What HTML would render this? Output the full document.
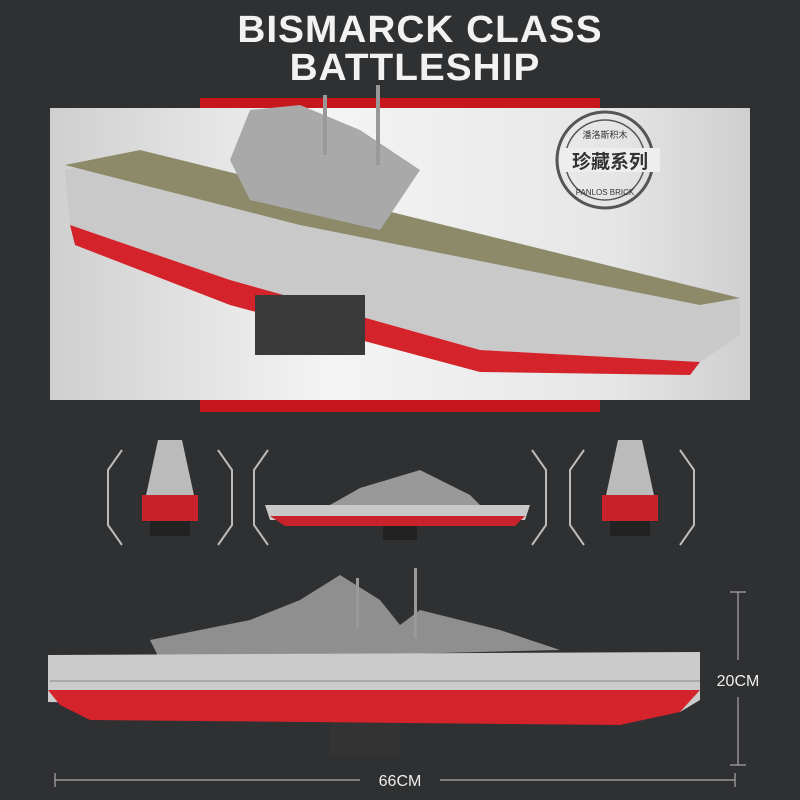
<!DOCTYPE html>
<html><head><meta charset="utf-8"><style>
body{margin:0;width:800px;height:800px;overflow:hidden;background:#2e3032;font-family:"Liberation Sans","Noto Sans CJK SC",sans-serif;position:relative}
.t{position:absolute;left:0;width:800px;text-align:center;color:#f2f2f2;font-weight:900;letter-spacing:1px}
</style></head><body>
<div class="t" style="top:10px;left:20px;font-size:38px;line-height:40px;transform:scaleX(1.02)">BISMARCK CLASS</div>
<div class="t" style="top:48px;left:15px;font-size:38px;line-height:40px;transform:scaleX(1.02)">BATTLESHIP</div>
<div style="position:absolute;left:200px;top:98px;width:400px;height:12px;background:#c8161d"></div>
<div style="position:absolute;left:200px;top:400px;width:400px;height:12px;background:#c8161d"></div>
<div style="position:absolute;left:50px;top:108px;width:700px;height:292px;background:linear-gradient(90deg,#cfcfcf,#f4f4f4 40%,#e6e6e6 80%,#cfcfcf)"></div>
<svg width="800" height="800" style="position:absolute;left:0;top:0">
<polygon points="65,170 140,152 740,300 740,335 700,362 480,350 230,280 70,225" fill="#c9c9c9"/>
<polygon points="65,165 140,150 740,298 700,305 300,225" fill="#8d8a6a"/>
<polygon points="70,225 230,280 480,350 700,362 690,375 480,372 230,305 75,245" fill="#d4232a"/>
<polygon points="250,110 300,105 360,130 420,170 380,230 250,200 230,160" fill="#a9a9a9"/>
<rect x="255" y="295" width="110" height="60" fill="#3a3a3a"/>
<rect x="376" y="85" width="4" height="80" fill="#999"/>
<rect x="323" y="95" width="4" height="60" fill="#999"/>
<circle cx="605" cy="160" r="48" fill="none" stroke="#555" stroke-width="3"/>
<circle cx="605" cy="160" r="40" fill="none" stroke="#555" stroke-width="1.5"/>
<rect x="560" y="148" width="100" height="24" fill="#eee"/>
<text x="610" y="168" font-size="19" font-weight="bold" text-anchor="middle" fill="#333" font-family="Noto Sans CJK SC">珍藏系列</text>
<text x="605" y="138" font-size="9" text-anchor="middle" fill="#333" font-family="Noto Sans CJK SC">潘洛斯积木</text>
<text x="605" y="195" font-size="8" text-anchor="middle" fill="#333">PANLOS BRICK</text>
<g fill="none" stroke="#bbb" stroke-width="2">
<polyline points="122,450 108,470 108,525 122,545"/><polyline points="218,450 232,470 232,525 218,545"/>
<polyline points="268,450 254,470 254,525 268,545"/><polyline points="532,450 546,470 546,525 532,545"/>
<polyline points="584,450 570,470 570,525 584,545"/><polyline points="680,450 694,470 694,525 680,545"/>
</g>
<polygon points="158,440 182,440 195,500 190,520 150,520 145,500" fill="#bbb"/>
<rect x="142" y="495" width="56" height="26" fill="#c8232a"/><rect x="150" y="521" width="40" height="15" fill="#222"/>
<polygon points="618,440 642,440 655,500 650,520 610,520 605,500" fill="#bbb"/>
<rect x="602" y="495" width="56" height="26" fill="#c8232a"/><rect x="610" y="521" width="40" height="15" fill="#222"/>
<polygon points="265,505 530,505 525,520 270,520" fill="#c8c8c8"/>
<polygon points="270,516 525,516 515,526 285,526" fill="#c8232a"/>
<polygon points="330,505 360,488 420,470 470,495 480,505" fill="#999"/>
<rect x="383" y="526" width="34" height="14" fill="#222"/>
<polygon points="150,640 250,620 300,600 340,575 380,600 400,625 420,610 500,630 560,650 160,660" fill="#8f8f8f"/>
<rect x="414" y="568" width="3" height="70" fill="#999"/>
<rect x="356" y="578" width="3" height="50" fill="#999"/>
<polygon points="48,655 700,652 700,700 680,712 48,702" fill="#cbcbcb"/>
<polygon points="48,690 700,690 680,712 620,725 90,720 60,705" fill="#d4232a"/>
<rect x="330" y="723" width="70" height="32" fill="#333"/>
<rect x="50" y="680" width="650" height="2" fill="#aaa"/>
<g stroke="#aaa" stroke-width="1.2"><line x1="738" y1="592" x2="738" y2="660"/><line x1="738" y1="697" x2="738" y2="765"/>
<line x1="730" y1="592" x2="746" y2="592"/><line x1="730" y1="765" x2="746" y2="765"/>
<line x1="55" y1="780" x2="360" y2="780"/><line x1="440" y1="780" x2="735" y2="780"/>
<line x1="55" y1="773" x2="55" y2="787"/><line x1="735" y1="773" x2="735" y2="787"/></g>
<text x="738" y="686" font-size="16" fill="#eee" text-anchor="middle">20CM</text>
<text x="400" y="786" font-size="16" fill="#eee" text-anchor="middle">66CM</text>
</svg>
</body></html>
